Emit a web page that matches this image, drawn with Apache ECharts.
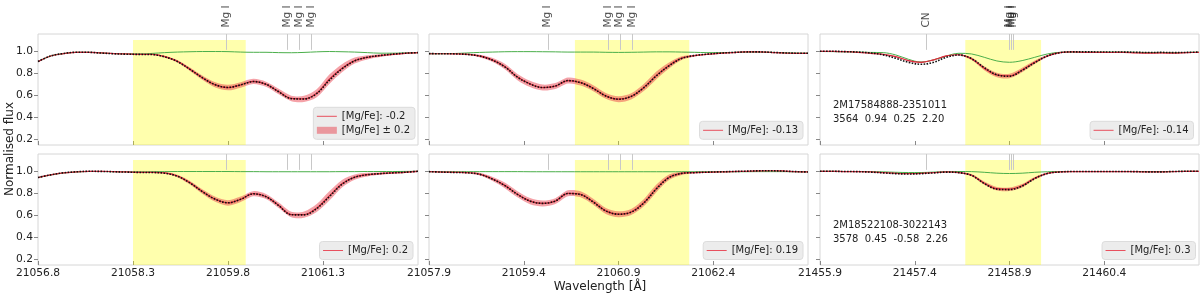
<!DOCTYPE html>
<html><head><meta charset="utf-8">
<script src="https://cdn.jsdelivr.net/npm/echarts@6/dist/echarts.min.js"></script>
<style>html,body{margin:0;padding:0;background:#fff}#c{width:1200px;height:297px}</style>
</head><body><div id="c"></div>
<script>
// ---------------- data ----------------
const offsets = [0,0.2,0.4,0.6,0.8,1,1.2,1.4,1.6,1.8,2,2.2,2.4,2.6,2.8,3,3.2,3.4,3.6,3.8,4,4.2,4.4,4.6,4.8,5,5.2,5.4,5.6,5.8,6];
const panelStarts = [21056.8, 21057.9, 21455.9];
const panelSpan = 6;
const xTicks = [
  [21056.8, 21058.3, 21059.8, 21061.3],
  [21057.9, 21059.4, 21060.9, 21062.4],
  [21455.9, 21457.4, 21458.9, 21460.4]
];
const yTicks = [0.2, 0.4, 0.6, 0.8, 1.0];
const windowRanges = [[21058.3, 21060.08], [21060.21, 21062.02], [21458.2, 21459.4]];
const windowTop = 1.1;
const linePos = [
  [21059.78, 21060.74, 21060.92, 21061.12],
  [21059.78, 21060.74, 21060.92, 21061.12],
  [21457.58, 21458.89, 21458.93, 21458.96]
];
const lineNames = [
  ['Mg I', 'Mg I', 'Mg I', 'Mg I'],
  ['Mg I', 'Mg I', 'Mg I', 'Mg I'],
  ['CN', 'Mg I', 'Mg I', 'Mg I']
];
const legendTop = ['[Mg/Fe]: -0.2', '[Mg/Fe]: -0.13', '[Mg/Fe]: -0.14'];
const legendBottom = ['[Mg/Fe]: 0.2', '[Mg/Fe]: 0.19', '[Mg/Fe]: 0.3'];
const bandLabel = '[Mg/Fe] ± 0.2';
const starTop = ['2M17584888-2351011', '3564  0.94  0.25  2.20'];
const starBottom = ['2M18522108-3022143', '3578  0.45  -0.58  2.26'];

// panel 1 top
const red_t1   = [0.904,0.955,0.976,0.988,0.988,0.982,0.976,0.973,0.970,0.970,0.949,0.907,0.835,0.757,0.694,0.670,0.694,0.726,0.700,0.634,0.572,0.568,0.619,0.745,0.844,0.913,0.943,0.958,0.970,0.979,0.985];
const obs_t1   = [0.905,0.955,0.977,0.988,0.988,0.981,0.975,0.971,0.969,0.968,0.947,0.905,0.834,0.757,0.695,0.671,0.694,0.724,0.700,0.632,0.570,0.567,0.615,0.735,0.838,0.910,0.943,0.959,0.971,0.980,0.985];
const green_t1 = [0.904,0.955,0.976,0.988,0.988,0.982,0.976,0.974,0.973,0.978,0.985,0.990,0.993,0.995,0.995,0.994,0.990,0.988,0.988,0.985,0.984,0.987,0.992,0.995,0.993,0.990,0.985,0.980,0.980,0.982,0.985];
const band_t1  = [0.003,0.003,0.003,0.003,0.003,0.003,0.003,0.003,0.004,0.005,0.008,0.011,0.015,0.019,0.023,0.025,0.025,0.023,0.023,0.025,0.025,0.028,0.036,0.042,0.037,0.027,0.019,0.013,0.009,0.006,0.005];
// panel 2 top
const red_t2   = [0.975,0.975,0.974,0.970,0.955,0.920,0.859,0.765,0.703,0.670,0.683,0.733,0.715,0.664,0.595,0.565,0.590,0.670,0.780,0.870,0.935,0.958,0.970,0.979,0.985,0.991,0.991,0.988,0.982,0.979,0.979];
const obs_t2   = [0.976,0.975,0.974,0.969,0.954,0.918,0.857,0.764,0.702,0.670,0.684,0.733,0.714,0.662,0.594,0.565,0.590,0.668,0.776,0.866,0.933,0.958,0.971,0.980,0.986,0.991,0.992,0.988,0.983,0.980,0.979];
const green_t2 = [0.975,0.975,0.977,0.982,0.987,0.990,0.993,0.994,0.994,0.993,0.992,0.990,0.990,0.990,0.988,0.987,0.988,0.990,0.992,0.992,0.990,0.988,0.985,0.985,0.987,0.990,0.990,0.988,0.984,0.981,0.980];
const band_t2  = [0.003,0.003,0.004,0.007,0.011,0.018,0.025,0.028,0.028,0.027,0.027,0.027,0.027,0.027,0.027,0.027,0.028,0.032,0.034,0.027,0.017,0.009,0.005,0.004,0.003,0.003,0.003,0.003,0.003,0.003,0.003];
// panel 3 top
const red_t3   = [0.997,0.997,0.994,0.988,0.979,0.970,0.949,0.913,0.898,0.920,0.955,0.966,0.930,0.845,0.784,0.775,0.829,0.898,0.955,0.985,0.991,0.988,0.988,0.986,0.988,0.983,0.980,0.982,0.980,0.985,0.988];
const obs_t3   = [0.997,0.997,0.994,0.990,0.982,0.965,0.934,0.898,0.880,0.898,0.943,0.964,0.930,0.850,0.785,0.772,0.825,0.895,0.955,0.985,0.992,0.992,0.991,0.990,0.990,0.988,0.986,0.987,0.985,0.987,0.990];
const green_t3 = [0.995,0.994,0.992,0.990,0.987,0.985,0.964,0.925,0.900,0.920,0.955,0.979,0.973,0.943,0.910,0.898,0.913,0.943,0.973,0.988,0.990,0.990,0.990,0.990,0.990,0.988,0.986,0.987,0.985,0.987,0.990];
const band_t3  = [0.002,0.002,0.002,0.002,0.003,0.003,0.004,0.005,0.006,0.005,0.004,0.006,0.012,0.018,0.020,0.020,0.020,0.016,0.010,0.005,0.003,0.003,0.003,0.003,0.003,0.003,0.003,0.003,0.003,0.003,0.003];
// panel 1 bottom
const red_b1   = [0.940,0.964,0.982,0.991,0.997,0.997,0.994,0.991,0.988,0.988,0.982,0.955,0.894,0.813,0.745,0.712,0.745,0.795,0.770,0.690,0.607,0.606,0.665,0.775,0.885,0.945,0.967,0.976,0.982,0.988,0.997];
const obs_b1   = [0.941,0.965,0.983,0.992,0.997,0.996,0.993,0.990,0.987,0.986,0.980,0.953,0.892,0.812,0.745,0.713,0.744,0.794,0.768,0.688,0.605,0.604,0.660,0.768,0.880,0.943,0.966,0.976,0.983,0.989,0.997];
const green_b1 = [0.940,0.964,0.982,0.991,0.995,0.995,0.993,0.992,0.992,0.993,0.994,0.995,0.995,0.995,0.995,0.995,0.994,0.994,0.993,0.993,0.993,0.993,0.993,0.993,0.994,0.994,0.995,0.995,0.995,0.996,0.997];
const band_b1  = [0.003,0.003,0.003,0.003,0.003,0.003,0.003,0.003,0.004,0.005,0.008,0.011,0.016,0.020,0.023,0.025,0.025,0.023,0.023,0.025,0.025,0.028,0.036,0.042,0.034,0.024,0.016,0.011,0.008,0.006,0.005];
// panel 2 bottom
const red_b2   = [0.994,0.990,0.988,0.985,0.972,0.930,0.870,0.790,0.728,0.707,0.728,0.798,0.789,0.722,0.640,0.610,0.630,0.713,0.843,0.943,0.979,0.985,0.988,0.991,0.994,0.997,1.000,1.002,1.000,0.994,0.991];
const obs_b2   = [0.994,0.990,0.987,0.984,0.970,0.928,0.868,0.789,0.728,0.708,0.729,0.797,0.787,0.720,0.639,0.610,0.628,0.710,0.838,0.940,0.978,0.985,0.989,0.992,0.995,0.998,1.001,1.002,0.999,0.994,0.991];
const green_b2 = [0.994,0.993,0.993,0.993,0.994,0.994,0.994,0.994,0.993,0.993,0.993,0.993,0.993,0.993,0.993,0.993,0.993,0.993,0.993,0.993,0.993,0.993,0.993,0.993,0.993,0.993,0.994,0.994,0.994,0.993,0.992];
const band_b2  = [0.003,0.003,0.004,0.007,0.011,0.018,0.025,0.028,0.028,0.027,0.027,0.027,0.027,0.027,0.027,0.027,0.028,0.032,0.034,0.025,0.015,0.008,0.005,0.004,0.003,0.003,0.003,0.003,0.003,0.003,0.003];
// panel 3 bottom
const red_b3   = [0.997,0.997,0.994,0.994,0.991,0.985,0.979,0.976,0.979,0.985,0.991,0.985,0.962,0.890,0.840,0.836,0.867,0.934,0.979,0.991,0.994,0.994,0.994,0.994,0.994,0.994,0.991,0.991,0.994,0.997,0.997];
const obs_b3   = [0.997,0.997,0.995,0.994,0.990,0.983,0.976,0.973,0.976,0.983,0.990,0.985,0.960,0.887,0.836,0.832,0.864,0.932,0.978,0.991,0.995,0.995,0.995,0.995,0.995,0.994,0.992,0.992,0.995,0.997,0.997];
const green_b3 = [0.997,0.997,0.995,0.995,0.994,0.992,0.988,0.986,0.986,0.990,0.993,0.995,0.994,0.988,0.980,0.977,0.980,0.988,0.993,0.995,0.995,0.995,0.995,0.995,0.995,0.995,0.994,0.994,0.995,0.997,0.997];
const band_b3  = [0.002,0.002,0.002,0.002,0.003,0.003,0.003,0.003,0.003,0.003,0.003,0.005,0.010,0.015,0.016,0.016,0.016,0.012,0.008,0.004,0.003,0.003,0.003,0.003,0.003,0.003,0.003,0.003,0.003,0.003,0.003];

// ---------------- layout ----------------
const gridLeft = [38, 429, 820];
const gridWidth = [380, 379, 379];
const gridTop = [34, 154];
const gridHeight = 111;
const yMin = 0.152, yMax = 1.153;
const FONT = 'DejaVu Sans';
const BAND = 'rgba(232,48,63,0.45)';

const panels = [
  {row:0, col:0, red:red_t1, obs:obs_t1, green:green_t1, band:band_t1, name:legendTop[0]},
  {row:0, col:1, red:red_t2, obs:obs_t2, green:green_t2, band:band_t2, name:legendTop[1]},
  {row:0, col:2, red:red_t3, obs:obs_t3, green:green_t3, band:band_t3, name:legendTop[2]},
  {row:1, col:0, red:red_b1, obs:obs_b1, green:green_b1, band:band_b1, name:legendBottom[0]},
  {row:1, col:1, red:red_b2, obs:obs_b2, green:green_b2, band:band_b2, name:legendBottom[1]},
  {row:1, col:2, red:red_b3, obs:obs_b3, green:green_b3, band:band_b3, name:legendBottom[2]}
];
const legendPos = [
  {right:785, bottom:157.7}, {right:397, bottom:157.7}, {right:6.5, bottom:157.7},
  {right:787, bottom:37.5}, {right:397, bottom:37.5}, {right:4.5, bottom:37.5}
];

const grids = [], xAxes = [], yAxes = [], series = [], legends = [];
const SM = 0.35;
panels.forEach((p, i) => {
  const start = panelStarts[p.col];
  const wl = offsets.map(o => +(start + o).toFixed(2));
  grids.push({left:gridLeft[p.col], top:gridTop[p.row], width:gridWidth[p.col], height:gridHeight,
    show:true, borderColor:'#d6d6d6', borderWidth:1, backgroundColor:'transparent'});
  xAxes.push({type:'value', gridIndex:i, min:start, max:start + panelSpan,
    axisLine:{show:false}, splitLine:{show:false},
    axisTick:{show:true, inside:true, length:4, lineStyle:{color:'#888'}, customValues:xTicks[p.col]},
    axisLabel:{show:p.row === 1, customValues:xTicks[p.col], formatter:v => v.toFixed(1),
      fontSize:10.7, color:'#222', margin:3, fontFamily:FONT}});
  yAxes.push({type:'value', gridIndex:i, min:yMin, max:yMax,
    axisLine:{show:false}, splitLine:{show:false},
    axisTick:{show:true, inside:false, length:4, lineStyle:{color:'#888'}, customValues:yTicks},
    axisLabel:{show:p.col === 0, customValues:yTicks, formatter:v => v.toFixed(1),
      fontSize:10.7, color:'#222', margin:5, fontFamily:FONT}});
  const lp = linePos[p.col];
  const rg = windowRanges[p.col];
  // window, line markers and labels
  series.push({type:'scatter', name:'markers' + i, xAxisIndex:i, yAxisIndex:i, silent:true, clip:false,
    symbolSize:1, itemStyle:{color:'rgba(0,0,0,0)'}, z:1,
    data: lp.map((x, k) => ({value:[x, yMax], name:lineNames[p.col][k]})),
    label:{show:p.row === 0, formatter:q => q.name, position:'top', distance:6, rotate:90,
      align:'left', verticalAlign:'middle', fontSize:10.5, color:'#222', fontFamily:FONT},
    markArea:{silent:true, itemStyle:{color:'rgba(255,255,0,0.32)'},
      data:[[{xAxis:rg[0], yAxis:yMin}, {xAxis:rg[1], yAxis:windowTop}]]},
    markLine:{silent:true, symbol:['none','none'], label:{show:false}, animation:false,
      lineStyle:{color:'#c8c8c8', width:1, type:'solid'},
      data: lp.map(x => [{coord:[x, 1.01]}, {coord:[x, yMax]}])}
  });
  // uncertainty band, drawn as a polygon through the axis scales
  series.push({type:'custom', name: i === 0 ? bandLabel : 'band' + i, xAxisIndex:i, yAxisIndex:i,
    silent:true, z:2, clip:true, itemStyle:{color:BAND},
    data:[[wl[0], p.red[0]]],
    renderItem:(params, api) => {
      const up = wl.map((x, k) => api.coord([x, p.red[k] + p.band[k]]));
      const lo = wl.map((x, k) => api.coord([x, p.red[k] - p.band[k]])).reverse();
      return {type:'polygon', shape:{points:up.concat(lo), smooth:0.3}, style:{fill:BAND}};
    }});
  // green
  series.push({type:'line', name:'green' + i, xAxisIndex:i, yAxisIndex:i,
    data: wl.map((x, k) => [x, p.green[k]]), symbol:'none', smooth:SM,
    lineStyle:{color:'#4aae4a', width:1}, itemStyle:{color:'#4aae4a'}, silent:true, z:3});
  // red model
  series.push({type:'line', name:p.name, xAxisIndex:i, yAxisIndex:i,
    data: wl.map((x, k) => [x, p.red[k]]), symbol:'none', smooth:SM,
    lineStyle:{color:'#e0283c', width:1.2}, itemStyle:{color:'#e0283c'}, silent:true, z:4});
  // observed (black dotted)
  series.push({type:'line', name:'obs' + i, xAxisIndex:i, yAxisIndex:i,
    data: wl.map((x, k) => [x, p.obs[k]]), symbol:'none', smooth:SM,
    lineStyle:{color:'#111', width:1.6, type:[1.6, 1.4]}, itemStyle:{color:'#111'}, silent:true, z:5});
  const ldata = i === 0
    ? [{name:p.name}, {name:bandLabel, icon:'rect', itemStyle:{opacity:1, color:BAND}}]
    : [{name:p.name}];
  legends.push(Object.assign({data:ldata, orient:'vertical', selectedMode:false,
    backgroundColor:'#ececec', borderColor:'#dcdcdc', borderWidth:1, borderRadius:3,
    padding:[3, 5, 3, 3], itemWidth:20, itemHeight:7, itemGap:2,
    itemStyle:{opacity:0}, lineStyle:{width:1, color:'#e8505e'},
    textStyle:{fontSize:10, color:'#222', fontFamily:FONT, lineHeight:12}}, legendPos[i]));
});

const graphics = [
  {type:'text', x:10, y:149, rotation:Math.PI / 2,
    style:{text:'Normalised flux', fontSize:12, fill:'#222', align:'center', verticalAlign:'middle', fontFamily:FONT}},
  {type:'text', x:600, y:287,
    style:{text:'Wavelength [Å]', fontSize:12, fill:'#222', align:'center', verticalAlign:'middle', fontFamily:FONT}},
  {type:'text', x:833, y:105.5, style:{text:starTop[0], fontSize:10, fill:'#222', align:'left', verticalAlign:'middle', fontFamily:FONT}},
  {type:'text', x:833, y:119.5, style:{text:starTop[1], fontSize:10, fill:'#222', align:'left', verticalAlign:'middle', fontFamily:FONT}},
  {type:'text', x:833, y:225.2, style:{text:starBottom[0], fontSize:10, fill:'#222', align:'left', verticalAlign:'middle', fontFamily:FONT}},
  {type:'text', x:833, y:239.5, style:{text:starBottom[1], fontSize:10, fill:'#222', align:'left', verticalAlign:'middle', fontFamily:FONT}}
];

const chart = echarts.init(document.getElementById('c'), null, {renderer:'canvas'});
chart.setOption({
  animation:false,
  textStyle:{fontFamily:FONT},
  grid:grids, xAxis:xAxes, yAxis:yAxes, series:series, legend:legends, graphic:graphics
});
</script></body></html>
